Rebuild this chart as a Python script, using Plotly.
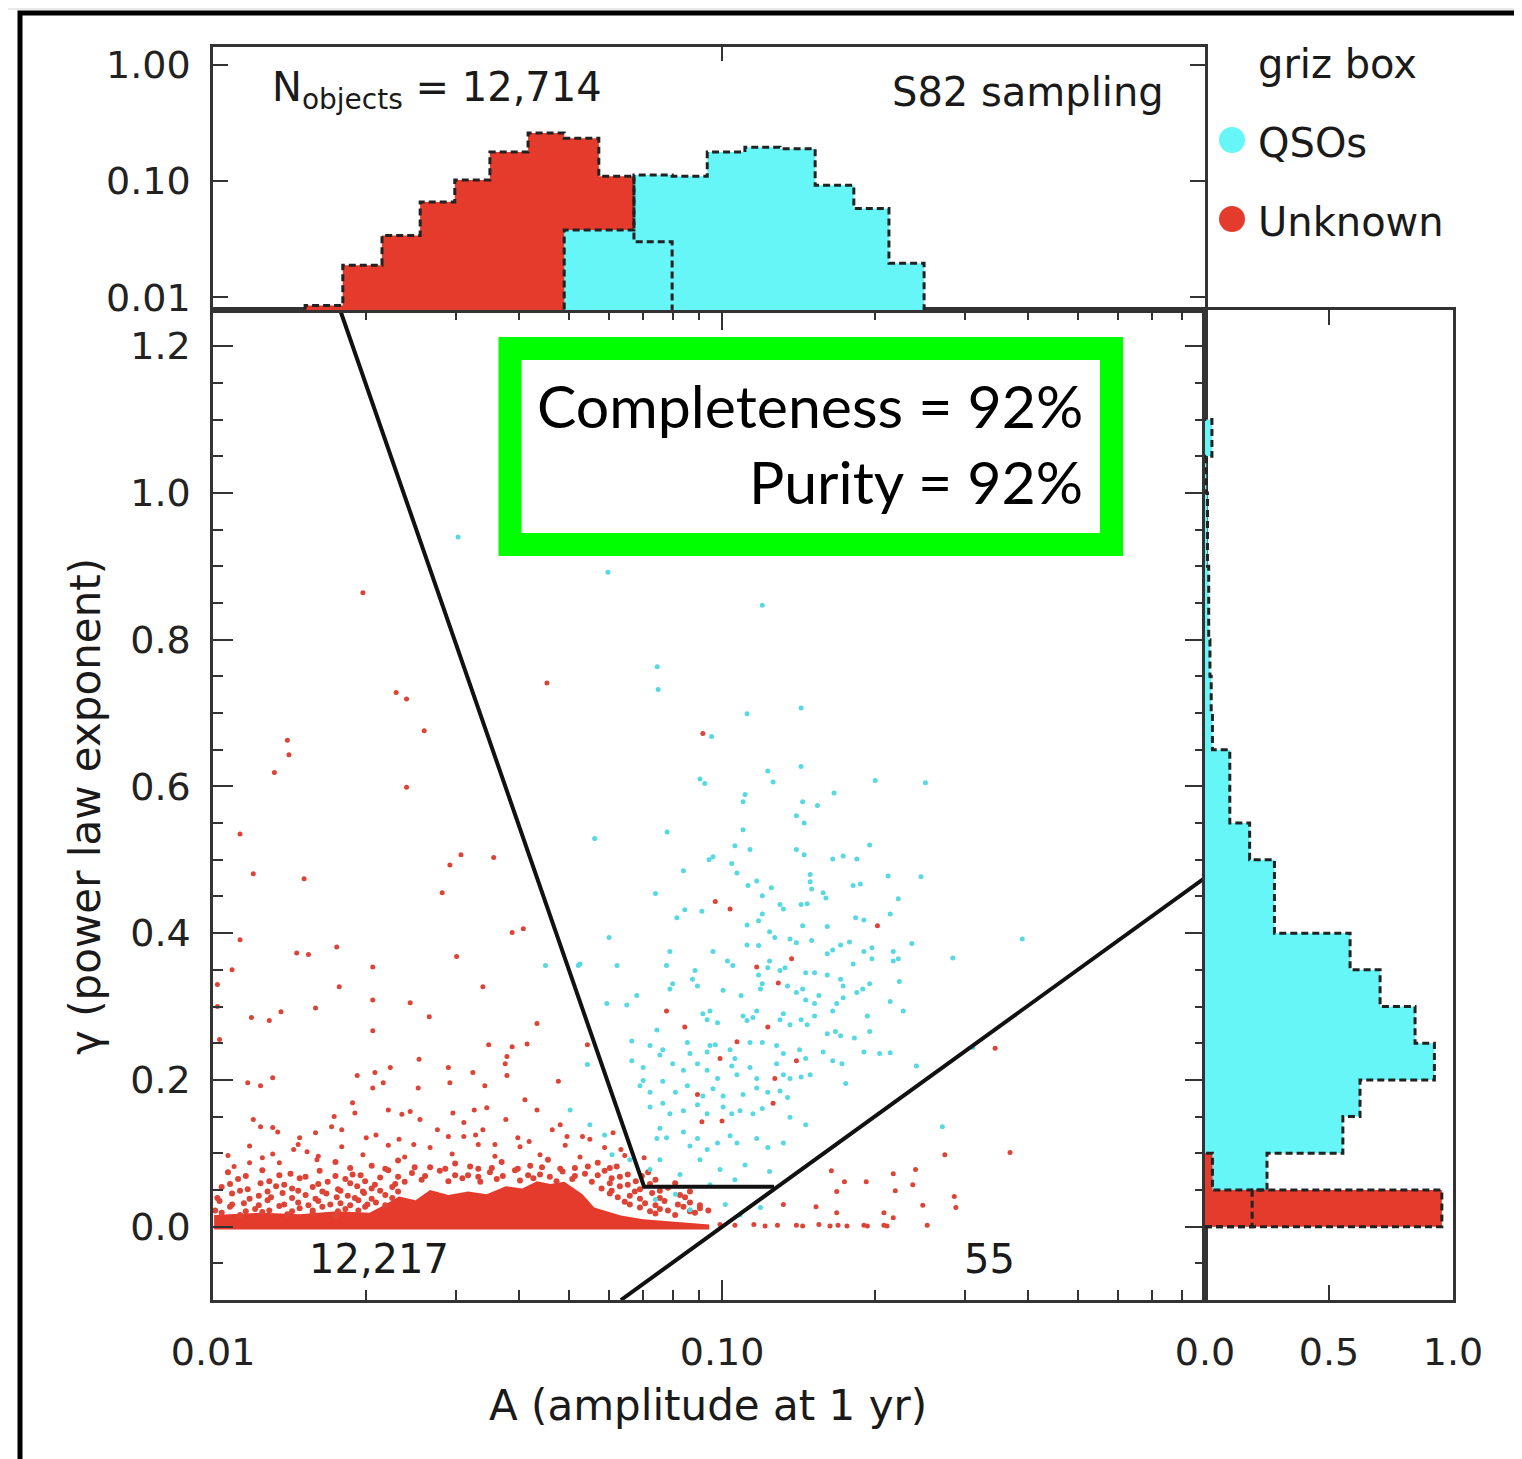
import plotly.graph_objects as go

W, H = 1522, 1459
OFF = 8  # page body margin of the browser
def px(x): return (x - OFF) / W
def py(y): return 1 - (y - OFF) / H

# ---------------- data ----------------
# top histogram (fraction of objects per log-A bin); bin edges in log10(A)
top_edges_log = [-1.819, -1.745, -1.668, -1.593, -1.525, -1.456, -1.381, -1.310, -1.242,
                 -1.173, -1.098, -1.029, -0.955, -0.886, -0.817, -0.741, -0.672, -0.603]
top_unknown_frac = [0.0085, 0.0189, 0.034, 0.066, 0.102, 0.178, 0.26, 0.234, 0.11, 0.030]   # bins 0..9
top_qso_frac = [0.038, 0.038, 0.113, 0.11, 0.178, 0.196, 0.19, 0.092, 0.058, 0.0196]        # bins 7..16
top_qso_first_bin = 7

# right histogram (fraction per gamma bin)
right_edges = [0.00, 0.05, 0.10, 0.15, 0.20, 0.25, 0.30, 0.35, 0.40, 0.45, 0.50, 0.55,
               0.60, 0.65, 0.70, 0.75, 0.80, 0.85, 0.90, 0.95, 1.00, 1.05, 1.10]
right_qso_frac = [0.19, 0.25, 0.556, 0.625, 0.925, 0.847, 0.706, 0.585, 0.28, 0.28, 0.18,
                  0.10, 0.10, 0.03, 0.025, 0.02, 0.015, 0.015, 0.01, 0.01, 0.005, 0.028]
right_unknown_frac = [0.955, 0.03]

# selection cut lines (A, gamma)
cut_A = [0.01776, 0.0703, 0.1265]
cut_gamma = [1.25, 0.0545, 0.0545]
diag_A = [0.0633, 0.889]
diag_gamma = [-0.1, 0.4755]

# saturated core of the Unknown population (outline of the solid red band)
core_A = [0.01005, 0.01005, 0.0125, 0.0148, 0.0175, 0.0203, 0.0218, 0.0232, 0.0250, 0.0267, 0.0290,
          0.0317, 0.0345, 0.0376, 0.0405, 0.0433, 0.0460, 0.0490, 0.0532, 0.0561, 0.0600, 0.0633,
          0.0700, 0.0827, 0.0944, 0.0944]
core_gamma = [-0.004, 0.016, 0.019, 0.017, 0.021, 0.019, 0.030, 0.041, 0.036, 0.050, 0.043,
              0.048, 0.044, 0.055, 0.052, 0.062, 0.058, 0.061, 0.044, 0.026, 0.020, 0.015,
              0.010, 0.006, 0.003, -0.004]

qso_points = [
 (0.0303,0.940),(0.0597,0.892),(0.120,0.847),(0.0746,0.763),(0.0749,0.732),(0.143,0.707),(0.112,0.699),
 (0.0954,0.668),(0.143,0.627),(0.123,0.621),(0.126,0.606),(0.0905,0.610),(0.0925,0.604),(0.200,0.608),
 (0.251,0.605),(0.166,0.591),(0.111,0.589),(0.110,0.579),(0.144,0.579),(0.154,0.574),(0.140,0.560),
 (0.145,0.550),(0.110,0.541),(0.078,0.538),(0.0562,0.529),(0.106,0.519),(0.1135,0.514),(0.140,0.514),
 (0.145,0.507),(0.195,0.520),(0.0960,0.504),(0.0943,0.500),(0.165,0.501),(0.173,0.505),(0.184,0.501),
 (0.1045,0.495),(0.107,0.482),(0.0840,0.485),(0.149,0.480),(0.149,0.470),(0.150,0.460),(0.212,0.478),
 (0.246,0.477),(0.117,0.471),(0.1125,0.465),(0.125,0.462),(0.181,0.465),(0.187,0.467),(0.0740,0.454),
 (0.158,0.455),(0.160,0.448),(0.120,0.451),(0.222,0.447),(0.130,0.439),(0.132,0.433),(0.143,0.439),
 (0.147,0.440),(0.120,0.426),(0.0845,0.432),(0.0815,0.421),(0.0913,0.430),(0.214,0.426),(0.183,0.421),
 (0.190,0.418),(0.112,0.411),(0.118,0.417),(0.144,0.410),(0.161,0.409),(0.0600,0.394),(0.124,0.402),
 (0.127,0.394),(0.136,0.392),(0.140,0.387),(0.150,0.390),(0.178,0.388),(0.171,0.384),(0.236,0.386),
 (0.389,0.392),(0.112,0.384),(0.118,0.383),(0.0960,0.375),(0.079,0.375),(0.165,0.377),(0.161,0.372),
 (0.190,0.375),(0.197,0.380),(0.217,0.375),(0.222,0.365),(0.217,0.362),(0.284,0.366),(0.181,0.358),
 (0.197,0.365),(0.0526,0.358),(0.0622,0.356),(0.0778,0.356),(0.1025,0.362),(0.105,0.356),(0.124,0.362),
 (0.123,0.353),(0.130,0.349),(0.133,0.353),(0.146,0.346),(0.152,0.346),(0.161,0.343),(0.118,0.343),
 (0.0885,0.349),(0.173,0.328),(0.171,0.337),(0.195,0.331),(0.189,0.324),(0.184,0.319),(0.223,0.334),
 (0.080,0.331),(0.079,0.324),(0.0875,0.337),(0.0895,0.328),(0.1005,0.322),(0.109,0.315),(0.120,0.331),
 (0.119,0.324),(0.1345,0.328),(0.140,0.319),(0.144,0.324),(0.155,0.315),(0.152,0.304),(0.146,0.309),
 (0.173,0.312),(0.214,0.307),(0.227,0.294),(0.193,0.287),(0.068,0.315),(0.0594,0.304),(0.0650,0.302),
 (0.0917,0.290),(0.0947,0.294),(0.0935,0.282),(0.098,0.278),(0.110,0.287),(0.112,0.281),(0.117,0.294),
 (0.115,0.285),(0.132,0.290),(0.130,0.282),(0.136,0.275),(0.143,0.282),(0.147,0.275),(0.152,0.287),
 (0.165,0.294),(0.168,0.304),(0.161,0.263),(0.167,0.266),(0.171,0.260),(0.182,0.257),(0.195,0.266),
 (0.0745,0.268),(0.0665,0.253),(0.0722,0.247),(0.0765,0.241),(0.0755,0.234),(0.0855,0.251),(0.0865,0.236),
 (0.0947,0.247),(0.097,0.248),(0.0935,0.238),(0.1037,0.241),(0.106,0.229),(0.1135,0.251),(0.120,0.251),
 (0.128,0.247),(0.132,0.236),(0.142,0.241),(0.146,0.229),(0.158,0.238),(0.165,0.226),(0.172,0.222),
 (0.190,0.238),(0.204,0.236),(0.214,0.237),(0.0665,0.226),(0.0700,0.217),(0.080,0.222),(0.084,0.213),
 (0.0895,0.222),(0.0935,0.213),(0.098,0.202),(0.1045,0.219),(0.107,0.207),(0.1135,0.217),(0.117,0.202),
 (0.128,0.222),(0.132,0.207),(0.136,0.202),(0.143,0.204),(0.149,0.207),(0.175,0.195),(0.241,0.219),
 (0.069,0.192),(0.0722,0.183),(0.0765,0.198),(0.081,0.183),(0.0855,0.192),(0.0917,0.178),(0.096,0.188),
 (0.1005,0.178),(0.110,0.180),(0.117,0.189),(0.123,0.183),(0.130,0.185),(0.1345,0.176),(0.0722,0.163),
 (0.0765,0.168),(0.079,0.154),(0.084,0.158),(0.0895,0.166),(0.0935,0.154),(0.1005,0.163),(0.1045,0.154),
 (0.1085,0.158),(0.115,0.154),(0.120,0.161),(0.136,0.149),(0.146,0.139),(0.0755,0.134),(0.0745,0.120),
 (0.0778,0.121),(0.084,0.129),(0.0865,0.110),(0.0895,0.120),(0.0935,0.105),(0.098,0.114),(0.1037,0.124),
 (0.107,0.114),(0.117,0.120),(0.123,0.108),(0.132,0.114),(0.271,0.136),(0.311,0.244),(0.0450,0.356),
 (0.0522,0.356),(0.0544,0.221),(0.070,0.199),(0.0503,0.159),(0.0550,0.139),(0.0588,0.125),(0.0608,0.098),
 (0.0740,0.037),(0.0865,0.023),(0.081,0.044),(0.1015,0.030),(0.1085,0.016),(0.119,0.026),(0.0905,0.091),
 (0.0991,0.078),(0.111,0.084),(0.124,0.075),(0.0722,0.078),(0.0827,0.071),(0.0659,0.091),(0.0755,0.091),
 (0.106,0.064),(0.0947,0.057),
]

unknown_points = [
 (0.0917,0.672),(0.0970,0.443),(0.1037,0.433),(0.202,0.410),(0.137,0.365),(0.117,0.354),(0.129,0.332),
 (0.0778,0.294),(0.0845,0.272),(0.123,0.272),(0.107,0.252),(0.0991,0.229),(0.140,0.226),(0.127,0.202),
 (0.0895,0.180),(0.126,0.168),(0.0913,0.143),(0.1000,0.144),(0.344,0.243),(0.274,0.098),(0.368,0.101),
 (0.164,0.076),(0.174,0.061),(0.192,0.061),(0.217,0.072),(0.240,0.078),(0.168,0.048),(0.219,0.049),
 (0.237,0.057),(0.132,0.030),(0.153,0.027),(0.248,0.029),(0.286,0.041),(0.288,0.026),(0.168,0.019),
 (0.208,0.019),(0.217,0.012),(0.140,0.002),(0.144,0.001),(0.155,0.003),(0.163,0.001),(0.169,0.002),
 (0.176,0.001),(0.190,0.002),(0.193,0.001),(0.208,0.002),(0.211,0.001),(0.253,0.002),(0.0991,0.003),
 (0.106,0.002),(0.1155,0.003),(0.1215,0.001),(0.1285,0.002),
 (0.0197,0.864),(0.0453,0.741),(0.0229,0.728),(0.0240,0.719),(0.0260,0.676),(0.0140,0.663),(0.0141,0.643),
 (0.0132,0.619),(0.0240,0.599),(0.0113,0.535),(0.0120,0.481),(0.0151,0.474),(0.0292,0.493),(0.0307,0.507),
 (0.0356,0.503),(0.0282,0.455),(0.0387,0.401),(0.0407,0.406),(0.0113,0.391),(0.0109,0.350),(0.0146,0.373),
 (0.0154,0.371),(0.0175,0.381),(0.0206,0.354),(0.0301,0.368),(0.0177,0.327),(0.0339,0.327),(0.0102,0.300),
 (0.0119,0.285),(0.0129,0.281),(0.0136,0.293),(0.0159,0.298),(0.0206,0.309),(0.0244,0.305),(0.0266,0.286),
 (0.0206,0.267),(0.0433,0.277),(0.0348,0.248),(0.0387,0.245),(0.0414,0.249),(0.0378,0.232),(0.0375,0.222),
 (0.0192,0.206),(0.0208,0.210),(0.0223,0.217),(0.0254,0.228),(0.0290,0.217),(0.0324,0.210),(0.0378,0.206),
 (0.0477,0.198),(0.0544,0.248),(0.0117,0.196),(0.0124,0.192),(0.0131,0.203),(0.0216,0.196),(0.0206,0.189),
 (0.0253,0.189),(0.0292,0.196),(0.0342,0.192),(0.0410,0.173),(0.0433,0.159),(0.0188,0.169),(0.0190,0.155),
 (0.0221,0.159),(0.0235,0.153),(0.0244,0.157),(0.0255,0.146),(0.0296,0.155),(0.0311,0.142),(0.0326,0.159),
 (0.0345,0.162),(0.0376,0.146),(0.0120,0.146),(0.0124,0.136),(0.0131,0.135),(0.0134,0.129),(0.0148,0.121),
 (0.0159,0.128),(0.0173,0.150),(0.0171,0.136),(0.0179,0.132),(0.0200,0.121),(0.0209,0.125),(0.0232,0.119),
 (0.0248,0.112),(0.0276,0.132),(0.0290,0.123),(0.0311,0.123),(0.0328,0.125),(0.0339,0.132),(0.0358,0.112),
 (0.0397,0.121),(0.0418,0.116),(0.0464,0.132),(0.0481,0.139),(0.0496,0.123),(0.0532,0.123),(0.0550,0.119),
 (0.0611,0.128),(0.0633,0.105),(0.0703,0.094),(0.0110,0.082),(0.0118,0.087),(0.0125,0.094),(0.0135,0.087),
 (0.0144,0.105),(0.0153,0.102),(0.0160,0.091),(0.0102,0.330),(0.0103,0.255),
 (0.0107,0.097),(0.0131,0.099),(0.0161,0.096),(0.0197,0.098),(0.0238,0.095),(0.0295,0.099),(0.0358,0.096),
 (0.0439,0.098),(0.0526,0.095),(0.0644,0.097),
 (0.0118,0.110),(0.0147,0.112),(0.0179,0.109),(0.0221,0.111),(0.0267,0.108),(0.0332,0.112),(0.0401,0.109),
 (0.0492,0.111),(0.0588,0.108),
]

band_points = [
 (0.0174,0.088),(0.0205,0.083),(0.0231,0.090),(0.0267,0.081),(0.0299,0.086),(0.0332,0.079),(0.0369,0.088),
 (0.0420,0.083),(0.0455,0.091),(0.0514,0.080),(0.0570,0.087),(0.0621,0.082),
 (0.0186,0.080),(0.0218,0.079),(0.0249,0.081),(0.0286,0.079),(0.0320,0.082),(0.0353,0.080),(0.0397,0.079),
 (0.0443,0.081),(0.0481,0.079),(0.0545,0.082),(0.0602,0.080),
 (0.0107,0.074),(0.0125,0.077),(0.0142,0.072),(0.0162,0.076),(0.0188,0.071),(0.0221,0.077),(0.0246,0.073),
 (0.0279,0.076),(0.0317,0.070),(0.0350,0.074),(0.0392,0.077),(0.0439,0.071),(0.0486,0.075),(0.0538,0.072),
 (0.0588,0.076),(0.0653,0.071),(0.0716,0.074),
 (0.0116,0.069),(0.0135,0.070),(0.0152,0.068),(0.0174,0.069),(0.0195,0.070),(0.0231,0.068),(0.0261,0.069),
 (0.0299,0.070),(0.0332,0.068),(0.0371,0.069),(0.0416,0.070),(0.0459,0.068),(0.0514,0.069),(0.0570,0.070),
 (0.0630,0.068),(0.0696,0.069),
 (0.0112,0.065),(0.0129,0.062),(0.0148,0.066),(0.0168,0.061),(0.0182,0.065),(0.0199,0.062),(0.0213,0.067),
 (0.0238,0.061),(0.0257,0.064),(0.0290,0.062),(0.0309,0.066),(0.0335,0.061),(0.0361,0.065),(0.0401,0.063),
 (0.0426,0.066),(0.0473,0.062),(0.0508,0.065),(0.0555,0.061),(0.0607,0.066),(0.0677,0.062),(0.0740,0.064),
 (0.0108,0.058),(0.0124,0.059),(0.0138,0.057),(0.0161,0.058),(0.0186,0.059),(0.0208,0.057),(0.0228,0.058),
 (0.0602,0.059),(0.0653,0.057),(0.0722,0.058),(0.0809,0.059),
 (0.0104,0.054),(0.0117,0.051),(0.0133,0.055),(0.0143,0.052),(0.0157,0.054),(0.0176,0.051),(0.0192,0.055),
 (0.0205,0.052),(0.0225,0.054),(0.0580,0.052),(0.0630,0.055),(0.0690,0.051),(0.0783,0.053),
 (0.0113,0.049),(0.0128,0.048),(0.0147,0.049),(0.0164,0.048),(0.0178,0.049),(0.0197,0.048),(0.0213,0.049),
 (0.0231,0.048),(0.0607,0.049),(0.0674,0.048),(0.0755,0.049),(0.0865,0.048),
 (0.0109,0.045),(0.0123,0.042),(0.0137,0.046),(0.0152,0.043),(0.0167,0.045),(0.0184,0.042),(0.0198,0.046),
 (0.0218,0.043),(0.0602,0.045),(0.0659,0.042),(0.0729,0.046),(0.0827,0.043),
 (0.0102,0.039),(0.0118,0.038),(0.0130,0.040),(0.0143,0.039),(0.0159,0.038),(0.0175,0.040),(0.0190,0.039),
 (0.0205,0.038),(0.0225,0.039),(0.0624,0.040),(0.0690,0.038),(0.0755,0.039),(0.0846,0.040),
 (0.0103,0.035),(0.0115,0.032),(0.0128,0.036),(0.0147,0.033),(0.0161,0.035),(0.0178,0.032),(0.0193,0.036),
 (0.0209,0.033),(0.0644,0.034),(0.0706,0.032),(0.0771,0.035),(0.0865,0.033),
 (0.0109,0.030),(0.0123,0.029),(0.0138,0.030),(0.0154,0.029),(0.0170,0.030),(0.0186,0.029),(0.0201,0.030),
 (0.0218,0.029),(0.0659,0.030),(0.0740,0.029),(0.0819,0.030),(0.0905,0.029),
 (0.0108,0.027),(0.0121,0.024),(0.0135,0.028),(0.0148,0.025),(0.0164,0.027),(0.0182,0.024),(0.0199,0.027),
 (0.0690,0.026),(0.0755,0.024),(0.0840,0.027),(0.0905,0.025),
 (0.0101,0.022),(0.0116,0.021),(0.0129,0.022),(0.0143,0.021),(0.0157,0.022),(0.0176,0.021),(0.0193,0.022),
 (0.0722,0.021),(0.0783,0.022),(0.0865,0.021),(0.0940,0.022),
 (0.0104,0.019),(0.0113,0.016),(0.0125,0.020),(0.0140,0.017),(0.0157,0.019),(0.0174,0.016),(0.0740,0.018),
 (0.0809,0.016),(0.0885,0.019),
]

main_y_ticks = [0.0, 0.2, 0.4, 0.6, 0.8, 1.0, 1.2]
main_y_ticktext = ["0.0", "0.2", "0.4", "0.6", "0.8", "1.0", "1.2"]
main_x_ticks = [0.01, 0.1]
main_x_ticktext = ["0.01", "0.10"]
main_x_minor = [0.02, 0.03, 0.04, 0.05, 0.06, 0.07, 0.08, 0.09, 0.2, 0.3, 0.4, 0.5, 0.6, 0.7, 0.8]
top_y_ticks = [0.01, 0.1, 1.0]
top_y_ticktext = ["0.01", "0.10", "1.00"]
right_x_ticks = [0.0, 0.5, 1.0]
right_x_ticktext = ["0.0", "0.5", "1.0"]

# ---------------- styles ----------------
CYAN_FILL = "#66F6F8"
RED_FILL = "#E43B2C"
CYAN_DOT = "#57D9E3"
RED_DOT = "#DE4436"
AX = "#333333"
TICKFONT = dict(family="DejaVu Sans", size=38, color="#222222")
TXTFONT = dict(family="DejaVu Sans", size=40, color="#1a1a1a")
DASH = dict(color="#222222", width=3, dash="7px,4px")


def step_vertical(edges, vals, floor):
    xs, ys = [edges[0]], [floor]
    for i, v in enumerate(vals):
        xs += [edges[i], edges[i + 1]]
        ys += [v, v]
    xs.append(edges[len(vals)])
    ys.append(floor)
    return xs, ys


fig = go.Figure()

# ---- main panel ----
fig.add_trace(go.Scatter(x=core_A, y=core_gamma, mode="lines", fill="toself",
                         fillcolor=RED_FILL, line=dict(width=0), xaxis="x", yaxis="y",
                         hoverinfo="skip"))
fig.add_trace(go.Scatter(x=[p[0] for p in band_points], y=[p[1] for p in band_points],
                         mode="markers", marker=dict(size=6, color=RED_DOT), xaxis="x", yaxis="y"))
fig.add_trace(go.Scatter(x=[p[0] for p in qso_points], y=[p[1] for p in qso_points],
                         mode="markers", marker=dict(size=5, color=CYAN_DOT), xaxis="x", yaxis="y"))
fig.add_trace(go.Scatter(x=[p[0] for p in unknown_points], y=[p[1] for p in unknown_points],
                         mode="markers", marker=dict(size=5, color=RED_DOT), xaxis="x", yaxis="y"))
fig.add_trace(go.Scatter(x=cut_A, y=cut_gamma, mode="lines",
                         line=dict(color="#111111", width=4), xaxis="x", yaxis="y"))
fig.add_trace(go.Scatter(x=diag_A, y=diag_gamma, mode="lines",
                         line=dict(color="#111111", width=4), xaxis="x", yaxis="y"))

# ---- top histogram ----
top_edges_A = [10 ** e for e in top_edges_log]
rx, ry = step_vertical(top_edges_A, top_unknown_frac, 1e-4)
qx, qy = step_vertical(top_edges_A[top_qso_first_bin:], top_qso_frac, 1e-4)
fig.add_trace(go.Scatter(x=rx, y=ry, mode="lines", fill="toself", fillcolor=RED_FILL,
                         line=dict(width=0), xaxis="x2", yaxis="y2"))
fig.add_trace(go.Scatter(x=qx, y=qy, mode="lines", fill="toself", fillcolor=CYAN_FILL,
                         line=dict(width=0), xaxis="x2", yaxis="y2"))
fig.add_trace(go.Scatter(x=rx, y=ry, mode="lines", line=DASH, xaxis="x2", yaxis="y2"))
fig.add_trace(go.Scatter(x=qx, y=qy, mode="lines", line=DASH, xaxis="x2", yaxis="y2"))

# ---- right histogram ----
cy, cx = step_vertical(right_edges, right_qso_frac, 0.0)
uy, ux = step_vertical(right_edges, right_unknown_frac, 0.0)
fig.add_trace(go.Scatter(x=cx, y=cy, mode="lines", fill="toself", fillcolor=CYAN_FILL,
                         line=dict(width=0), xaxis="x3", yaxis="y3"))
fig.add_trace(go.Scatter(x=ux, y=uy, mode="lines", fill="toself", fillcolor=RED_FILL,
                         line=dict(width=0), xaxis="x3", yaxis="y3"))
fig.add_trace(go.Scatter(x=cx, y=cy, mode="lines", line=DASH, xaxis="x3", yaxis="y3"))
fig.add_trace(go.Scatter(x=ux, y=uy, mode="lines", line=DASH, xaxis="x3", yaxis="y3"))

main_xdom = [px(213), px(1205)]
main_ydom = [py(1300), py(310)]
common = dict(showgrid=False, zeroline=False, showline=True, linecolor=AX, linewidth=2.5,
              tickcolor=AX, tickwidth=2, tickfont=TICKFONT, ticks="inside", automargin=False)

fig.update_layout(
    width=W, height=H, margin=dict(l=0, r=0, t=0, b=0, autoexpand=False),
    paper_bgcolor="white", plot_bgcolor="rgba(0,0,0,0)", showlegend=False,
    xaxis=dict(domain=main_xdom, type="log", range=[-2, -0.0511], anchor="y",
               tickmode="array", tickvals=main_x_ticks, ticktext=main_x_ticktext,
               ticklen=20, mirror="ticks", ticklabelstandoff=17,
               minor=dict(tickmode="array", tickvals=main_x_minor, ticklen=10, ticks="inside",
                          tickcolor=AX, tickwidth=2),
               **common),
    yaxis=dict(domain=main_ydom, range=[-0.1, 1.2493], anchor="x",
               tickmode="array", tickvals=main_y_ticks, ticktext=main_y_ticktext,
               ticklen=20, mirror="ticks", ticklabelstandoff=12,
               minor=dict(tick0=0, dtick=0.05, ticklen=10, ticks="inside",
                          tickcolor=AX, tickwidth=2),
               **common),
    xaxis2=dict(domain=main_xdom, type="log", range=[-2, -0.0511], anchor="y2", side="top",
                tickmode="array", tickvals=main_x_ticks, showticklabels=False,
                ticklen=14, mirror=True, **common),
    yaxis2=dict(domain=[py(310), py(47)], type="log", range=[-2.11, 0.155], anchor="x2",
                tickmode="array", tickvals=top_y_ticks, ticktext=top_y_ticktext,
                ticklen=15, mirror="ticks", ticklabelstandoff=12, **common),
    xaxis3=dict(domain=[px(1205), px(1453)], range=[0, 1.0], anchor="y3",
                tickmode="array", tickvals=right_x_ticks, ticktext=right_x_ticktext,
                ticklen=15, mirror="ticks", ticklabelstandoff=17, **common),
    yaxis3=dict(domain=main_ydom, range=[-0.1, 1.2493], anchor="x3",
                showticklabels=False, showgrid=False, zeroline=False, showline=True,
                linecolor=AX, linewidth=2.5, mirror=True, ticks="", automargin=False),
)

shapes = [
    dict(type="rect", xref="paper", yref="paper", x0=px(0), x1=px(1530), y0=py(10), y1=py(0),
         fillcolor="#e9e9e9", line=dict(width=0), layer="below"),
    dict(type="rect", xref="paper", yref="paper", x0=px(20), x1=px(1545), y0=py(1480), y1=py(13),
         line=dict(color="black", width=5), fillcolor="rgba(0,0,0,0)", layer="above"),
    dict(type="rect", xref="paper", yref="paper", x0=px(510), x1=px(1111.5), y0=py(544.5),
         y1=py(348.5), line=dict(color="#00FF00", width=23), fillcolor="white", layer="above"),
    dict(type="circle", xref="paper", yref="paper", x0=px(1219), x1=px(1245), y0=py(153),
         y1=py(127), fillcolor=CYAN_FILL, line=dict(width=0)),
    dict(type="circle", xref="paper", yref="paper", x0=px(1219), x1=px(1245), y0=py(232),
         y1=py(206), fillcolor=RED_FILL, line=dict(width=0)),
]

def ann(text, x, y, xanchor="center", font=TXTFONT, angle=0):
    return dict(text=text, x=px(x), y=py(y), xref="paper", yref="paper", showarrow=False,
                xanchor=xanchor, yanchor="middle", font=font, textangle=angle)

GILL = dict(family="Lato", size=59, color="black")
annotations = [
    ann("N<sub>objects</sub> = 12,714", 270, 90, "left"),
    ann("S82 sampling", 1166, 92, "right"),
    ann("12,217", 379, 1259),
    ann("55", 989, 1259),
    ann("griz box", 1256, 64, "left"),
    ann("QSOs", 1256, 143, "left"),
    ann("Unknown", 1256, 222, "left"),
    ann("A (amplitude at 1 yr)", 708, 1405, font=dict(family="DejaVu Sans", size=42, color="#1a1a1a")),
    ann("γ (power law exponent)", 85, 807, font=dict(family="DejaVu Sans", size=42, color="#1a1a1a"), angle=-90),
    ann("Completeness = 92%", 1085, 405, "right", font=GILL),
    ann("Purity = 92%", 1085, 481, "right", font=GILL),
]
fig.update_layout(shapes=shapes, annotations=annotations)

fig.write_html("out.html", config={"displayModeBar": False})
